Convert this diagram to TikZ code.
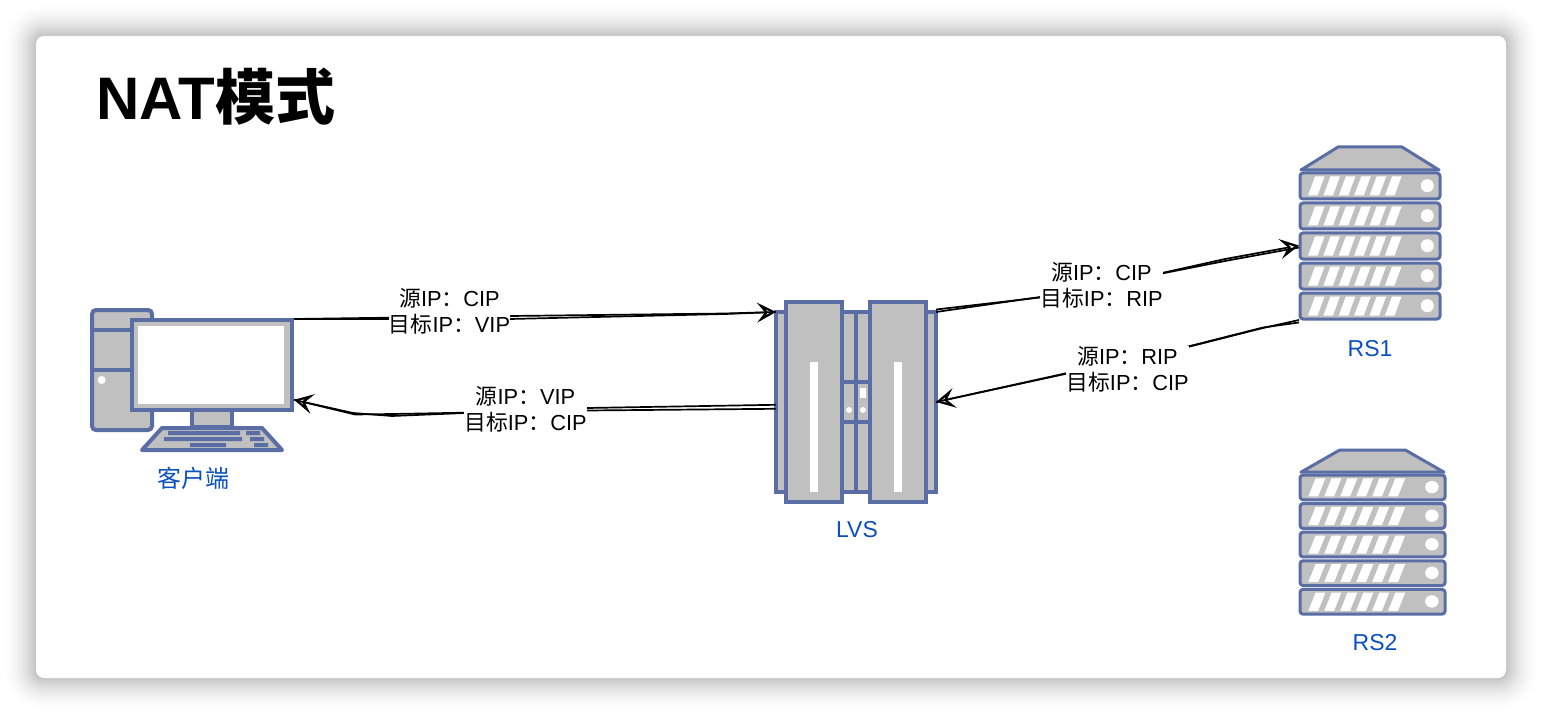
\documentclass[tikz,border=0pt]{standalone}
\usepackage{fontspec}
\setmainfont{Liberation Sans}
\newfontfamily\cjk{Noto Sans CJK SC}
\usetikzlibrary{arrows.meta}
\definecolor{iconblue}{HTML}{5A6EA5}
\definecolor{icongray}{HTML}{C0C0C0}
\definecolor{captionblue}{HTML}{0A50C0}
\newcommand\cn[1]{{\cjk #1}}

\begin{document}
\begin{tikzpicture}[x=1pt,y=-1pt,
    iconline/.style={draw=iconblue,line width=4pt,fill=icongray},
    rackline/.style={draw=iconblue,line width=3pt,fill=icongray,line join=round},
    iconkey/.style={fill=iconblue},
    hole/.style={fill=white},
    iconbox/.style={inner sep=0pt,outer sep=0pt},
    caption/.style={text=captionblue,font=\fontsize{23}{26}\selectfont,anchor=base},
    wire/.style={line width=1.7pt,black},
    tipped/.style={-{Stealth[open,length=19pt,width=20pt,inset=8pt,line width=2.2pt]}},
    hop/.style={fill=white,inner sep=0pt,align=center,font=\fontsize{21.8}{26}\selectfont},
]
            \newcommand\rackicon[4]{% {<x>}{<y>}{<xscale>}{<yscale>}
                \begin{scope}[shift={(#1,#2)},xscale=#3,yscale=#4]
                    \draw[rackline] (38,-26) -- (102,-26) -- (139,-3) -- (1,-3) -- cycle;
                    \foreach \u in {0,30,...,120} {
                        \draw[rackline,rounded corners=3pt] (0,\u) rectangle (140,\u+26);
                        \foreach \s in {0,...,5} {
                            \fill[hole] (8+15.4*\s,\u+22.5) -- ++(9.5,0) -- ++(7,-19) -- ++(-9.5,0) -- cycle;
                        }
                        \fill[hole] (127.3,\u+12.7) circle (6.5pt);
                    }
                \end{scope}
            }
            \useasboundingbox (0,0) rectangle (1542,714);

            % card and its shadow
            \foreach \i in {1,...,60} {
                \pgfmathsetmacro\e{36*(1-sqrt(\i/60))}
                \fill[black,opacity=0.004,rounded corners=8+\e] (36-\e,36-\e) rectangle (1506+\e,678+\e);
            }
            \fill[white,rounded corners=8pt] (36,36) rectangle (1506,678);
            \node[anchor=base west,inner sep=0pt,font=\fontsize{60}{62}\selectfont\bfseries] (title) at (96,120) {NAT\cn{模式}};

            % client
            \node[iconbox,minimum width=164pt,minimum height=92pt] (client) at (212,365) {};
            \draw[iconline,rounded corners=4pt] (92,310) rectangle (152,430);
            \draw[iconblue,line width=4pt] (92,330) -- (132,330) (92,370) -- (132,370);
            \fill[hole] (101.7,380) circle (4pt);
            \draw[iconline] (192,410) rectangle (232,427);
            \draw[iconline,line join=round] (162,428) -- (262,428) -- (282,450) -- (142,450) -- cycle;
            \draw[iconline] (132,320) rectangle (292,410);
            \fill[hole] (138,326) rectangle (284,404);
            \fill[iconkey] (168,431) rectangle (240,435) (246,431) rectangle (260,435);
            \fill[iconkey] (164,437) rectangle (242,441) (250,437) rectangle (264,441);
            \fill[iconkey] (190,443) rectangle (226,447) (254,443) rectangle (268,447);
            \node[caption,anchor=center,font=\fontsize{24}{26}\selectfont\cjk] (clientname) at (193,478) {客户端};

            % lvs
            \node[iconbox,minimum width=160pt,minimum height=180pt] (lvs) at (856,402) {};
            \draw[iconline] (776,312) rectangle (936,492);
            \draw[iconblue,line width=4pt] (856,312) -- (856,492) (842,382) -- (870,382) (842,422) -- (870,422);
            \draw[iconline] (786,302) rectangle (842,502);
            \draw[iconline] (870,302) rectangle (926,502);
            \fill[hole] (810,362) rectangle (818,492);
            \fill[hole] (894,362) rectangle (902,492);
            \fill[hole] (860,388) rectangle (866,398);
            \fill[hole] (849,410) circle (3pt) (863,410) circle (3pt);
            \node[caption] (lvsname) at (857,537) {LVS};

            % real servers
            \node[iconbox,minimum width=142pt,minimum height=174pt] (rsone) at (1370,233) {};
            \rackicon{1300}{173}{1}{1}
            \node[caption] (rsonename) at (1370,356) {RS1};
            \node[iconbox,minimum width=148pt,minimum height=166pt] (rstwo) at (1372.5,532) {};
            \rackicon{1300}{475}{1.036}{0.953}
            \node[caption] (rstwoname) at (1375,650) {RS2};

            % client to lvs
            \draw[wire,tipped] (client.north east) -- (510,316) -- (725,313.5) -- (lvs.north west);
            \draw[wire] (client.north east) -- (510,319) -- (725,314) -- (lvs.north west);
            \node[hop] (hopa) at (449.5,311) {\cn{源}IP\cn{：}CIP\\\cn{目标}IP\cn{：}VIP};

            % lvs back to client
            \draw[wire,tipped] (lvs.182) -- (587,408) -- (392,416) -- (353,413) -- (client.-23);
            \draw[wire] (lvs.182) ++(0,4) -- (587,410.5) -- (392,414) -- (355,414.5) -- (client.-23);
            \node[hop] (hopb) at (525.5,409) {\cn{源}IP\cn{：}VIP\\\cn{目标}IP\cn{：}CIP};

            % lvs to rs1
            \draw[wire,tipped] (lvs.north east) -- (1040,297) -- (1162,273) -- (1225,259) -- (rsone.190);
            \draw[wire] ([yshift=2.5pt]lvs.north east) -- (1040,297.5) -- (1162,273.5) -- (1225,261) -- ([yshift=-2pt]rsone.190);
            \node[hop] (hopc) at (1101.5,285) {\cn{源}IP\cn{：}CIP\\\cn{目标}IP\cn{：}RIP};

            % rs1 back to lvs
            \draw[wire,tipped] (rsone.south west) -- (1263,328) -- (1188,347) -- (1065,374) -- (lvs.east);
            \draw[wire] ([yshift=-2.5pt]rsone.south west) -- (1263,327.5) -- (1188,346.5) -- (1065,373.5) -- (lvs.east);
            \node[hop] (hopd) at (1127.5,369) {\cn{源}IP\cn{：}RIP\\\cn{目标}IP\cn{：}CIP};
\end{tikzpicture}
\end{document}
